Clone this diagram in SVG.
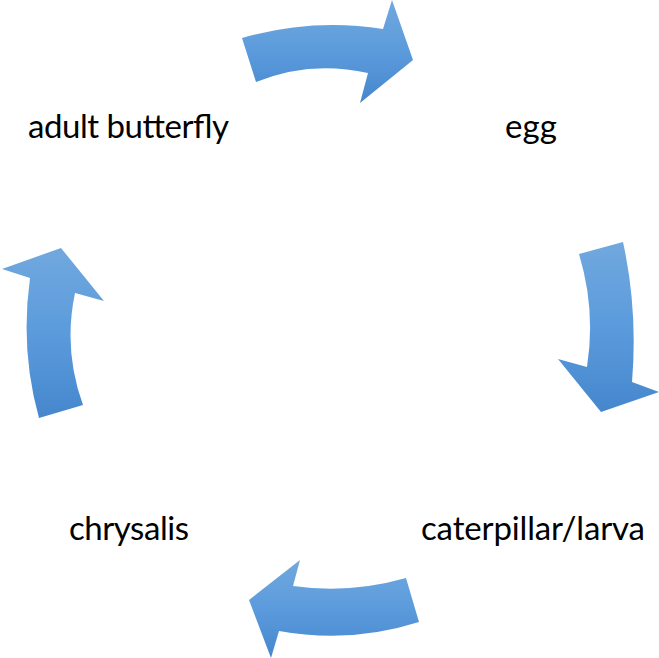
<svg xmlns="http://www.w3.org/2000/svg" width="659" height="658" viewBox="0 0 659 658">
<defs>
<linearGradient id="g" x1="0" y1="0" x2="0" y2="1">
<stop offset="0" stop-color="#71a8de"/>
<stop offset="0.5" stop-color="#5b9bdc"/>
<stop offset="1" stop-color="#4686cd"/>
</linearGradient>
<style>
.arr{fill:url(#g);stroke:none}
.lbl{font-family:Lato,"Liberation Sans",sans-serif;font-size:33px;fill:#000}
</style>
</defs>
<rect width="659" height="658" fill="#fff"/>
<g id="connectors">
<path class="arr" d="M242,38 Q312,18 383,29 L392,0 L413,60 L360,103 L368,73 Q310,60 256,82 Z"/>
<path class="arr" d="M579,254 L623,242 Q638,310 632,382 L659,392 L601,412 L558,359 L587,367 Q596,310 579,254 Z"/>
<path class="arr" d="M406,578 L419,622 Q350,644 279,631 L271,658 L249,600 L300,560 L293,586 Q350,594 406,578 Z"/>
<path class="arr" d="M39,418 L83,405 Q63,350 75,293 L104,301 L61,248 L2,269 L30,278 Q20,350 39,418 Z"/>
</g>
<g id="adult"><text class="lbl" x="28" y="138" textLength="201">adult butterfly</text></g>
<g id="egg"><text class="lbl" x="505" y="138" textLength="52">egg</text></g>
<g id="caterpillar"><text class="lbl" x="421" y="540" textLength="224">caterpillar/larva</text></g>
<g id="chrysalis"><text class="lbl" x="69" y="540" textLength="120">chrysalis</text></g>
</svg>
